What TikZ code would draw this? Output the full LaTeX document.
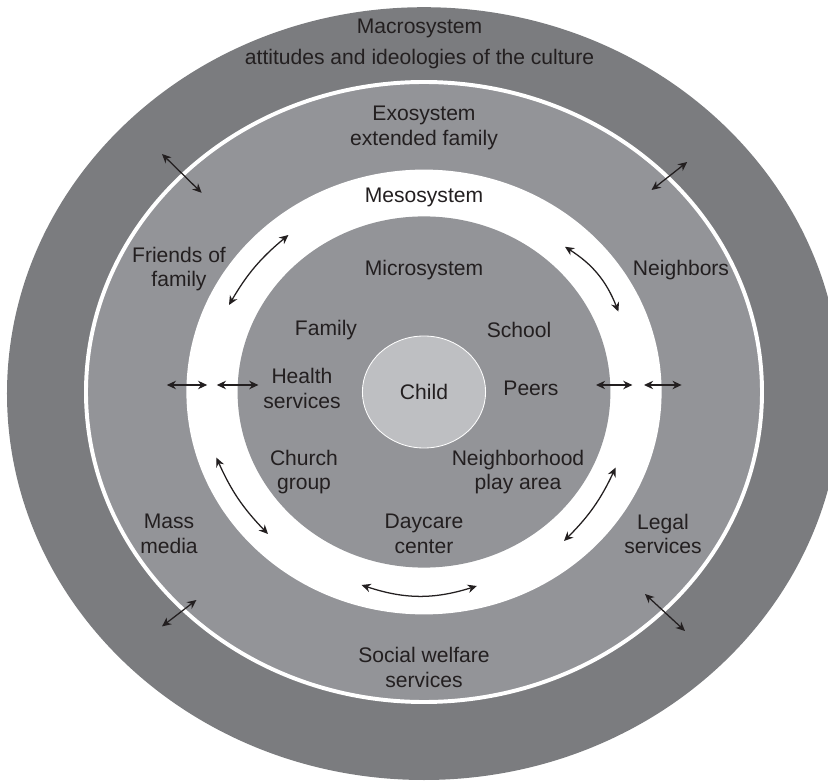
\documentclass[tikz,border=0pt]{standalone}
\usepackage{fontspec}
\setmainfont{Liberation Sans}
\usepackage{xcolor}
\definecolor{ecoink}{HTML}{231F20}
\definecolor{ecodark}{HTML}{7B7C7F}
\definecolor{ecomid}{HTML}{939498}
\definecolor{ecolight}{HTML}{BEBFC2}
\usetikzlibrary{arrows.meta,shapes.geometric}
\tikzset{
  ecolbl/.style  ={font=\fontsize{15}{17.7}\selectfont, text=ecoink, align=center,
                   inner sep=0pt},
  ecochild/.style={ellipse, draw=white, line width=0.6pt, fill=ecolight,
                   minimum width=3.08cm, minimum height=2.8cm, inner sep=0pt, ecolbl},
  ecoarrow/.style={{Stealth[length=6.5pt,width=6pt]}-{Stealth[length=6.5pt,width=6pt]},
                   line width=0.9pt, draw=ecoink},
}

\begin{document}
\begin{tikzpicture}
  \useasboundingbox (-10.6,-9.775) rectangle (10.1,9.8);
  \clip (-10.6,-9.775) rectangle (10.1,9.8);
  % rings, outside in
  \fill[ecodark] (0,-0.04) ellipse [x radius=10.425cm, y radius=9.66cm];
  \filldraw[fill=ecomid, draw=white, line width=2.8pt]
       (0,0) ellipse [x radius=8.45cm, y radius=7.75cm];
  \fill[white] (0,0) ellipse [x radius=5.94cm, y radius=5.56cm];
  \fill[ecomid] (0,0) ellipse [x radius=4.66cm, y radius=4.39cm];
  \node[ecochild] (child) at (0,0) {Child};
  % labels
  \node[ecolbl] (macro) at (-0.11,8.69)
       {Macrosystem\\[4.3pt]attitudes and ideologies of the culture};
  \node[ecolbl] (exo) at (0,6.61) {Exosystem\\extended family};
  \node[ecolbl] (meso) at (0,4.875) {Mesosystem};
  \node[ecolbl] (micro) at (0,3.05) {Microsystem};
  \node[ecolbl] (friends) at (-6.125,3.075) {Friends of\\family};
  \node[ecolbl] (neighbors) at (6.425,3.05) {Neighbors};
  \node[ecolbl] (family) at (-2.45,1.55) {Family};
  \node[ecolbl] (school) at (2.375,1.55) {School};
  \node[ecolbl] (health) at (-3.05,0.09) {Health\\services};
  \node[ecolbl] (peers) at (2.675,0.1) {Peers};
  \node[ecolbl] (church) at (-3.0,-2.0) {Church\\group};
  \node[ecolbl] (playarea) at (2.35,-2.0) {Neighborhood\\play area};
  \node[ecolbl] (massmedia) at (-6.375,-3.55) {Mass\\media};
  \node[ecolbl] (daycare) at (0,-3.55) {Daycare\\center};
  \node[ecolbl] (legal) at (5.975,-3.55) {Legal\\services};
  \node[ecolbl] (welfare) at (0,-6.89) {Social welfare\\services};
  % straight arrows
  \foreach \n/\xa/\ya/\xb/\yb in {tl/-6.55/5.95/-5.56/4.98, tr/6.58/5.75/5.69/5.05,
      bl/-5.69/-5.2/-6.55/-5.86, br/5.525/-5.05/6.525/-5.975,
      hla/-6.43/0.175/-5.42/0.175, hlb/-5.18/0.175/-4.14/0.175,
      hra/4.3/0.175/5.21/0.175, hrb/5.5/0.175/6.44/0.175}{
    \coordinate (\n-a) at (\xa,\ya);
    \coordinate (\n-b) at (\xb,\yb);
    \draw[ecoarrow] (\n-a) -- (\n-b);
  }
  % curved arrows in the mesosystem
  \coordinate (mtl-a) at (-3.39,3.925);  \coordinate (mtl-b) at (-4.875,2.175);
  \coordinate (mtr-a) at (3.525,3.63);   \coordinate (mtr-b) at (4.86,2.01);
  \coordinate (mbl-a) at (-5.19,-1.64);  \coordinate (mbl-b) at (-3.9,-3.55);
  \coordinate (mbr-a) at (4.79,-1.89);   \coordinate (mbr-b) at (3.5,-3.725);
  \coordinate (mb-a) at (-1.56,-4.825);  \coordinate (mb-b) at (1.32,-4.85);
  \draw[ecoarrow] (mtl-a) to[bend right=10] (mtl-b);
  \draw[ecoarrow] (mtr-a) to[bend left=18] (mtr-b);
  \draw[ecoarrow] (mbl-a) to[bend right=10] (mbl-b);
  \draw[ecoarrow] (mbr-a) to[bend left=10] (mbr-b);
  \draw[ecoarrow] (mb-a) to[bend right=18] (mb-b);
\end{tikzpicture}
\end{document}
